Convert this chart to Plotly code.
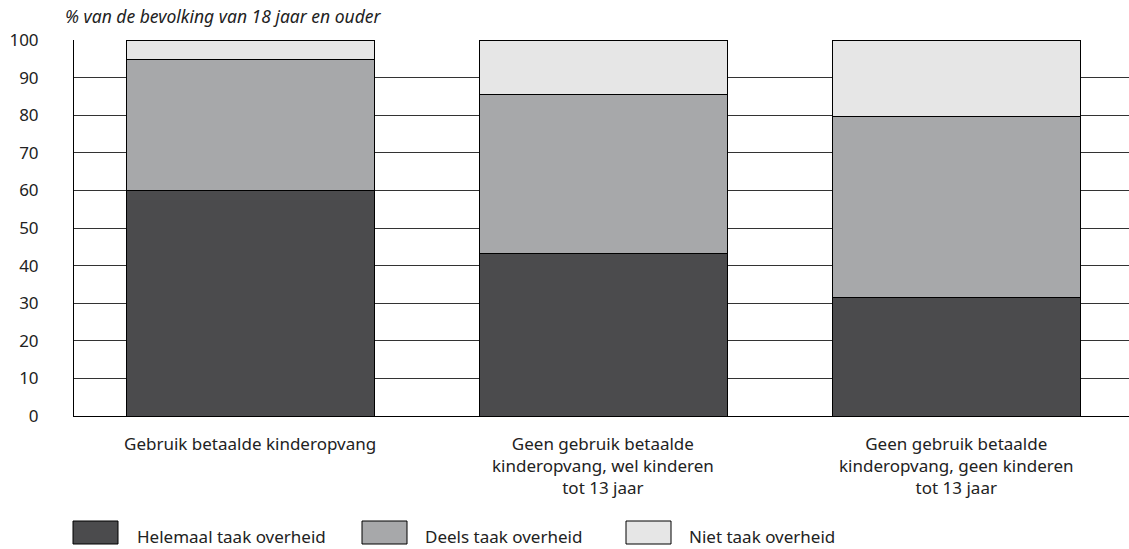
import plotly.graph_objects as go

categories = [
    "Gebruik betaalde kinderopvang",
    "Geen gebruik betaalde<br>kinderopvang, wel kinderen<br>tot 13 jaar",
    "Geen gebruik betaalde<br>kinderopvang, geen kinderen<br>tot 13 jaar",
]
series_names = ["Helemaal taak overheid", "Deels taak overheid", "Niet taak overheid"]
helemaal = [60, 43.3, 31.6]
deels = [34.8, 42.3, 48.1]
niet = [5.2, 14.4, 20.3]
colors = ["#4b4b4d", "#a7a8aa", "#e6e6e6"]
y_ticks = [0, 10, 20, 30, 40, 50, 60, 70, 80, 90, 100]

FONT = "Noto Sans"
FS = 17
TXT = "#222222"

fig = go.Figure()
xs = list(range(len(categories)))
for name, vals, col in zip(series_names, [helemaal, deels, niet], colors):
    fig.add_trace(go.Bar(
        x=xs, y=vals, name=name,
        marker=dict(color=col, line=dict(color="#000000", width=1)),
        width=0.703, showlegend=False,
    ))

W, H = 1129, 549
L, T, B = 74, 40, 133
plot_w = W - L
plot_h = H - T - B

def py(pix):
    return (H - B - pix) / plot_h

def px(pix):
    return (pix - L) / plot_w

fig.update_layout(
    barmode="stack",
    width=W, height=H,
    margin=dict(l=L, r=0, t=T, b=B, autoexpand=False),
    plot_bgcolor="white", paper_bgcolor="white",
    font=dict(family=FONT, size=FS, color=TXT),
    xaxis=dict(
        range=[-0.5, 2.49], tickmode="array", tickvals=xs,
        showticklabels=False,
        showgrid=False, showline=True, linecolor="#000000", linewidth=1,
        ticks="", automargin=False,
    ),
    yaxis=dict(
        range=[0, 100], tickmode="array", tickvals=y_ticks,
        ticktext=[str(v) for v in y_ticks],
        showgrid=True, gridcolor="#333333", gridwidth=1,
        showline=True, linecolor="#000000", linewidth=1,
        ticks="", ticklabelstandoff=31, zeroline=False, automargin=False,
        tickfont=dict(size=FS, family=FONT, color=TXT),
    ),
)

# category labels
for xi, cat in zip(xs, categories):
    fig.add_annotation(
        text=cat, xref="x", yref="paper", x=xi, y=py(430),
        xanchor="center", yanchor="top", showarrow=False,
        font=dict(size=FS, family=FONT, color=TXT),
    )

fig.add_annotation(
    text="<i>% van de bevolking van 18 jaar en ouder</i>",
    xref="paper", yref="paper", x=px(63), y=py(16),
    xanchor="left", yanchor="middle", showarrow=False,
    font=dict(size=17.5, family=FONT, color=TXT),
)

# legend drawn as shapes + text
swatch_x = [73, 362, 626]
text_x = [135, 423, 687]
for sx, tx, name, col in zip(swatch_x, text_x, series_names, colors):
    fig.add_shape(type="rect", xref="paper", yref="paper",
                  x0=px(sx), x1=px(sx + 45), y0=py(544), y1=py(521),
                  fillcolor=col, line=dict(color="#000000", width=1))
    fig.add_annotation(text=name, xref="paper", yref="paper",
                       x=px(tx), y=py(536),
                       xanchor="left", yanchor="middle", showarrow=False,
                       font=dict(size=FS, family=FONT, color=TXT))

fig.write_html("out.html", config={"displayModeBar": False},
               post_script="document.body.style.margin='0';")
